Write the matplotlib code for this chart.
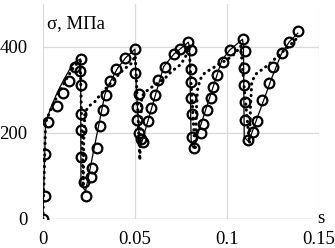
import matplotlib
matplotlib.use("Agg")
import matplotlib.pyplot as plt

# solid line (model)
line_x = [0, 0.0015, 0.0045, 0.008, 0.0115, 0.0154, 0.0185, 0.0205,
          0.0207, 0.0232, 0.0337, 0.037, 0.0405, 0.045, 0.050,
          0.0508, 0.0525, 0.0535, 0.0656, 0.0713, 0.0745, 0.079,
          0.0797, 0.0806, 0.0817, 0.0973, 0.1016, 0.1085,
          0.1090, 0.1094, 0.1118, 0.1243, 0.1297, 0.1339, 0.1385]
line_y = [0, 225, 261, 296, 325, 354, 368, 372,
          80, 65, 290, 322, 350, 375, 395,
          300, 180, 175, 354, 384, 395, 411,
          400, 175, 165, 370, 393, 418,
          400, 190, 180, 327, 385, 412, 432]

# open circles (experiment)
circ_x = [0, 0.001, 0.0012, 0.0027, 0.0078, 0.0109, 0.014, 0.0172, 0.0205,
          0.0199, 0.0205, 0.0205, 0.0207, 0.0205, 0.0226, 0.0235,
          0.0263, 0.0268, 0.0295, 0.0308, 0.0326, 0.0344, 0.0364, 0.040, 0.0446, 0.050,
          0.0500, 0.0523, 0.0512, 0.0512, 0.0523, 0.0535, 0.0545,
          0.0572, 0.0585, 0.0609, 0.0627, 0.0663, 0.0713, 0.0745, 0.079,
          0.0803, 0.0803, 0.0803, 0.0803, 0.0813, 0.0811, 0.0822,
          0.0857, 0.0868, 0.089, 0.0911, 0.0922, 0.0947, 0.098, 0.1016, 0.1085,
          0.1098, 0.1092, 0.1092, 0.1098, 0.1098, 0.1115,
          0.1143, 0.1165, 0.1189, 0.123, 0.1252, 0.1297, 0.1339, 0.1388]
circ_y = [0, 54, 151, 225, 263, 292, 322, 354, 371,
          344, 312, 244, 207, 143, 87, 53,
          98, 118, 164, 216, 253, 288, 322, 348, 374, 395,
          339, 290, 261, 230, 200, 186, 180,
          228, 259, 288, 323, 354, 384, 395, 411,
          392, 348, 319, 281, 244, 191, 164,
          199, 221, 253, 281, 306, 335, 364, 393, 418,
          390, 350, 312, 273, 230, 184,
          203, 229, 277, 317, 353, 385, 412, 436]

# dotted line (second model)
dot_x = [0, 0.0015, 0.005, 0.009, 0.013, 0.017, 0.0203,
         0.0212, 0.0219, 0.0222, 0.0228, 0.0246, 0.0283, 0.031, 0.0383, 0.0437, 0.0482, 0.0502,
         0.0515, 0.0527, 0.0533, 0.0537, 0.0555, 0.0609, 0.0663, 0.0699, 0.0745, 0.0772, 0.0795,
         0.0807, 0.0827, 0.0835, 0.0840, 0.0855, 0.0880, 0.0920, 0.0963, 0.1000, 0.1045, 0.1075,
         0.1095, 0.1123, 0.1128, 0.1135, 0.1162, 0.1200, 0.1245, 0.1282, 0.1345, 0.1375]
dot_y = [0, 225, 262, 296, 327, 355, 368,
         200, 75, 180, 246, 261, 273, 288, 323, 347, 362, 380,
         260, 137, 230, 284, 295, 312, 327, 343, 358, 374, 400,
         300, 160, 260, 300, 325, 340, 350, 362, 370, 385, 402,
         300, 176, 260, 320, 339, 350, 366, 381, 405, 418]

xticks = [0, 0.05, 0.1, 0.15]
xticklabels = ["0", "0.05", "0.1", "0.15"]
yticks = [0, 200, 400]
yticklabels = ["0", "200", "400"]

plt.rcParams['font.family'] = ['Liberation Serif', 'DejaVu Serif']

fig = plt.figure(figsize=(3.35, 2.48), dpi=100)
ax = fig.add_axes([0.128, 0.117, 0.824, 0.867])

grid_c = "#d9d9d9"
for gx in xticks:
    ax.axvline(gx, color=grid_c, lw=0.9, zorder=0)
for gy in yticks[1:]:
    ax.axhline(gy, color=grid_c, lw=0.9, zorder=0)
ax.axhline(0, color="#bfbfbf", lw=1.0, zorder=0)

ax.plot(dot_x, dot_y, color="black", lw=2.2, linestyle=(0, (0.1, 1.8)),
        dash_capstyle="round", zorder=2)
ax.plot(line_x, line_y, color="black", lw=0.9, zorder=3)
ax.plot(circ_x, circ_y, linestyle="none", marker="o", markersize=7,
        markerfacecolor="none", markeredgecolor="black", markeredgewidth=1.6, zorder=4)

ax.set_xlim(0, 0.15)
ax.set_ylim(0, 500)
ax.set_xticks(xticks)
ax.set_xticklabels(xticklabels)
ax.set_yticks(yticks)
ax.set_yticklabels(yticklabels)
ax.tick_params(length=0, labelsize=13.5)
ax.tick_params(axis="y", pad=11)
ax.tick_params(axis="x", pad=9)
for s in ax.spines.values():
    s.set_visible(False)

ax.text(0.002, 455, "σ, МПа", fontsize=13.5, ha="left", va="center")
ax.text(0.151, 0, "s", fontsize=13.5, ha="center", va="center", clip_on=False)

fig.savefig("out.png", dpi=100)
